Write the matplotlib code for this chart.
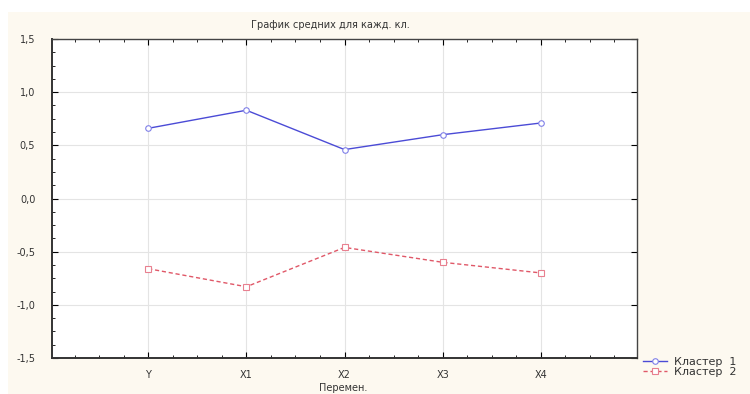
import matplotlib
matplotlib.use("Agg")
from matplotlib import pyplot as plt
from matplotlib.patches import Rectangle
from matplotlib.ticker import MultipleLocator

variables = ["Y", "X1", "X2", "X3", "X4"]
cluster1 = [0.66, 0.83, 0.46, 0.60, 0.71]
cluster2 = [-0.66, -0.83, -0.46, -0.60, -0.70]
y_ticks = [-1.5, -1.0, -0.5, 0.0, 0.5, 1.0, 1.5]
y_labels = ["-1,5", "-1,0", "-0,5", "0,0", "0,5", "1,0", "1,5"]


def main():
    plt.rcParams["font.family"] = ["DejaVu Sans"]
    fig = plt.figure(figsize=(7.5, 3.94), dpi=100)
    fig.patch.set_facecolor("white")
    # cream background of the STATISTICA window
    fig.patches.append(Rectangle((8 / 750, 0), 1, 1 - 12 / 394, transform=fig.transFigure,
                                 facecolor="#fdf9f0", edgecolor="none", zorder=-10))

    ax = fig.add_axes([52 / 750, 36 / 394, 585 / 750, 319 / 394])
    ax.set_facecolor("white")
    x = list(range(len(variables)))

    ax.plot(x, cluster1, color="#4b4bd6", linewidth=1.0, marker="o", markersize=4,
            markerfacecolor="white", markeredgecolor="#8080e8", markeredgewidth=0.8, label="Кластер  1")
    ax.plot(x, cluster2, color="#e05868", linewidth=1.0, linestyle=(0, (3, 2)), marker="s", markersize=4,
            markerfacecolor="white", markeredgecolor="#e88090", markeredgewidth=0.8, label="Кластер  2")

    ax.set_xlim(-0.98, 4.98)
    ax.set_ylim(-1.5, 1.5)
    ax.set_xticks(x)
    ax.set_xticklabels(variables, fontsize=7, color="#333333")
    ax.xaxis.set_minor_locator(MultipleLocator(0.25))
    ax.set_yticks(y_ticks)
    ax.set_yticklabels(y_labels, fontsize=7, color="#333333")
    ax.yaxis.set_minor_locator(MultipleLocator(0.125))
    ax.tick_params(which="both", direction="in", top=True, right=True, labelright=False, labeltop=False)
    ax.tick_params(which="major", length=4, width=0.8, pad=9)
    ax.tick_params(which="minor", length=2, width=0.6)
    ax.tick_params(axis="y", which="minor", right=False)
    ax.tick_params(axis="y", pad=12)

    ax.grid(True, which="major", color="#e4e4e4", linewidth=0.8)
    ax.set_axisbelow(True)
    for side in ["left", "bottom"]:
        ax.spines[side].set_linewidth(1.4)
        ax.spines[side].set_color("#333333")
    for side in ["top", "right"]:
        ax.spines[side].set_linewidth(1.0)
        ax.spines[side].set_color("#444444")

    fig.text(330 / 750, 1 - 25 / 394, "График средних для кажд. кл.", fontsize=7,
             ha="center", va="center", color="#333333")
    fig.text(343 / 750, 1 - 388 / 394, "Перемен.", fontsize=7, ha="center", va="center", color="#333333")

    ax.legend(loc="upper left", bbox_to_anchor=(643 / 750, 1 - 357 / 394), bbox_transform=fig.transFigure,
              frameon=False, fontsize=8, handlelength=2.2, handletextpad=0.6, labelspacing=0.0,
              borderaxespad=0, borderpad=0, labelcolor="#333333")

    fig.savefig("out.png", dpi=100)
    plt.close(fig)


if __name__ == "__main__":
    main()
